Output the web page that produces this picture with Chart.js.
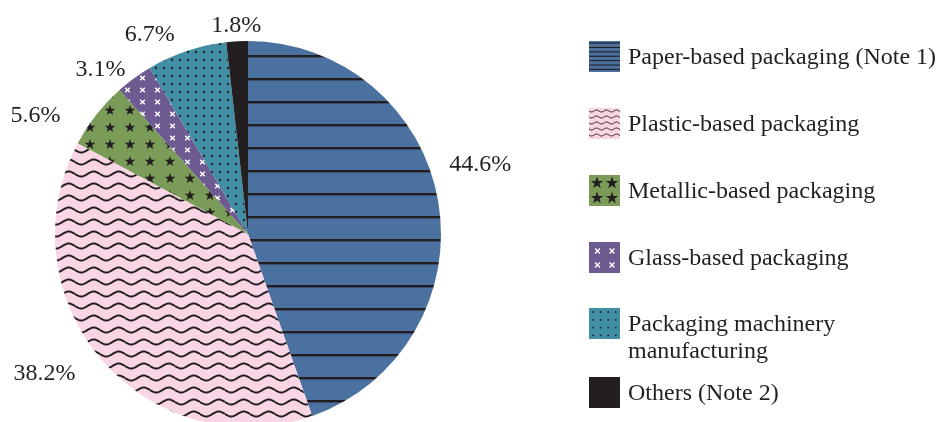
<!DOCTYPE html>
<html>
<head>
<meta charset="utf-8">
<script src="https://cdn.jsdelivr.net/npm/chart.js@4.4.1/dist/chart.umd.min.js"></script>
<style>
  html, body { margin: 0; padding: 0; background: #fff; overflow: hidden; width: 937px; height: 422px; }
  #wrap { position: absolute; left: 0; top: 0; width: 937px; height: 480px; }
  .legend-item { position: absolute; left: 589px; display: flex; align-items: flex-start; }
  .legend-item canvas { width: 31px; height: 31px; display: block; }
  .legend-item span {
    margin-left: 8px; margin-top: 2px;
    font: 24px "Liberation Serif", "Times New Roman", serif; line-height: 27px;
    color: #231f20; white-space: pre-line;
  }
</style>
</head>
<body>
<div id="wrap"><canvas id="myChart" width="937" height="480"></canvas></div>
<div id="legend"></div>
<script>
// data
const categories = [
    'Paper-based packaging (Note 1)',
    'Plastic-based packaging',
    'Metallic-based packaging',
    'Glass-based packaging',
    'Packaging machinery\nmanufacturing',
    'Others (Note 2)'
];
const shares = [44.6, 38.2, 5.6, 3.1, 6.7, 1.8];
const shareLabels = ['44.6%', '38.2%', '5.6%', '3.1%', '6.7%', '1.8%'];

// look
const fills = ['#4b71a0', '#fad5e5', '#7b9b59', '#6d5a91', '#408fa4', '#231f20'];
const ink = '#231f20';
const labelShift = [-7.3, 6.5, -8.7, -5.5, -7.5, 0];   // degrees off the slice middle
const labelDist = [243, 246, 244, 222, 224, 210];
const legendTops = [41, 108, 175, 242, 308, 377];

function tile(w, h, bg, draw) {
    const c = document.createElement('canvas');
    c.width = w; c.height = h;
    const g = c.getContext('2d');
    g.fillStyle = bg;
    g.fillRect(0, 0, w, h);
    draw(g, w, h);
    return c;
}

function star(g, cx, cy, R) {
    const r = R * 0.4;
    g.beginPath();
    for (let i = 0; i < 10; i++) {
        const a = -Math.PI / 2 + i * Math.PI / 5;
        const rad = i % 2 ? r : R;
        g.lineTo(cx + rad * Math.cos(a), cy + rad * Math.sin(a));
    }
    g.closePath();
    g.fill();
}

function cross(g, cx, cy, s) {
    g.beginPath();
    g.moveTo(cx - s, cy - s); g.lineTo(cx + s, cy + s);
    g.moveTo(cx + s, cy - s); g.lineTo(cx - s, cy + s);
    g.stroke();
}

function wave(g, x0, x1, y, amp, period) {
    g.beginPath();
    for (let x = x0; x <= x1; x += 0.5) {
        g.lineTo(x, y + amp * Math.sin(2 * Math.PI * x / period));
    }
    g.stroke();
}

// painters for the slices (big) and for the legend swatches (small)
const painters = [
    function (g, w, h, small) {
        g.fillStyle = ink;
        if (small) {
            for (let y = 1.5; y < h; y += 4.4) g.fillRect(0, y, w, 1.1);
        } else {
            g.fillRect(0, 9, w, 2.4);
        }
    },
    function (g, w, h, small) {
        g.strokeStyle = ink;
        if (small) {
            g.lineWidth = 1;
            for (let y = 3; y < h; y += 6) wave(g, 0, w, y, 1, 10);
        } else {
            g.lineWidth = 2;
            wave(g, 0, w, 6, 2.5, 25);
        }
    },
    function (g, w, h, small) {
        g.fillStyle = ink;
        if (small) {
            star(g, 8, 8, 6.5); star(g, 23, 8, 6.5);
            star(g, 8, 23, 6.5); star(g, 23, 23, 6.5);
        } else {
            star(g, 10, 8.5, 5.6);
        }
    },
    function (g, w, h, small) {
        g.strokeStyle = '#ffffff';
        g.lineWidth = 1.4;
        if (small) {
            cross(g, 8.5, 9, 2.4); cross(g, 23, 9, 2.4);
            cross(g, 8.5, 23, 2.4); cross(g, 23, 23, 2.4);
        } else {
            cross(g, 7.5, 6, 2.3);
        }
    },
    function (g, w, h, small) {
        g.fillStyle = ink;
        if (small) {
            for (let y = 4; y < h; y += 7.8)
                for (let x = 4; x < w; x += 7.6) {
                    g.beginPath(); g.arc(x, y, 0.9, 0, Math.PI * 2); g.fill();
                }
        } else {
            g.beginPath(); g.arc(4, 4, 1.15, 0, Math.PI * 2); g.fill();
        }
    },
    function () {}
];

const tileSizes = [[8, 23], [25, 12], [20, 17], [15, 12], [8, 8], [4, 4]];

const ctx = document.getElementById('myChart').getContext('2d');
const patterns = painters.map(function (p, i) {
    const c = tile(tileSizes[i][0], tileSizes[i][1], fills[i], function (g, w, h) { p(g, w, h, false); });
    return ctx.createPattern(c, 'repeat');
});

const sliceLabels = {
    id: 'sliceLabels',
    afterDatasetsDraw(chart) {
        const c = chart.ctx;
        const meta = chart.getDatasetMeta(0);
        c.save();
        c.font = '24px "Liberation Serif", "Times New Roman", serif';
        c.fillStyle = ink;
        c.textAlign = 'center';
        c.textBaseline = 'alphabetic';
        meta.data.forEach(function (arc, i) {
            const mid = (arc.startAngle + arc.endAngle) / 2 + labelShift[i] * Math.PI / 180;
            const d = labelDist[i];
            c.fillText(shareLabels[i], arc.x + Math.cos(mid) * d, arc.y + Math.sin(mid) * d + 8);
        });
        c.restore();
    }
};

new Chart(ctx, {
    type: 'pie',
    data: {
        labels: categories,
        datasets: [{
            data: shares,
            backgroundColor: patterns,
            borderWidth: 0
        }]
    },
    options: {
        responsive: false,
        animation: false,
        layout: { padding: { left: 55, right: 496, top: 41, bottom: 53 } },
        plugins: {
            legend: { display: false },
            tooltip: { enabled: false }
        }
    },
    plugins: [sliceLabels]
});

// legend
const legend = document.getElementById('legend');
categories.forEach(function (name, i) {
    const item = document.createElement('div');
    item.className = 'legend-item';
    item.style.top = legendTops[i] + 'px';
    const sw = tile(31, 31, fills[i], function (g, w, h) { painters[i](g, w, h, true); });
    const text = document.createElement('span');
    text.textContent = name;
    item.appendChild(sw);
    item.appendChild(text);
    legend.appendChild(item);
});
</script>
</body>
</html>
